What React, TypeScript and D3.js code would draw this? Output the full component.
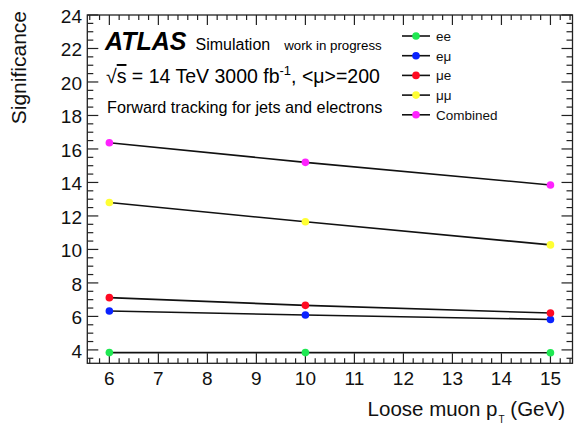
import React, { useEffect, useRef } from 'react';
import * as d3 from 'd3';

// loose muon pT cut (GeV)
const ptCuts = [6, 10, 15];

// significance per channel
const sigEE = [3.84, 3.84, 3.83];
const sigEMu = [6.32, 6.08, 5.82];
const sigMuE = [7.12, 6.66, 6.2];
const sigMuMu = [12.8, 11.65, 10.27];
const sigCombined = [16.37, 15.2, 13.85];

const channelNames = ['ee', 'eμ', 'μe', 'μμ', 'Combined'];
const channelColors = ['#1fe852', '#0a22ff', '#ff0a22', '#ffff33', '#ff22ff'];

const xDomain = [5.55, 15.45];
const yDomain = [3.2, 24];

const FONT = "'Liberation Sans', Arial, Helvetica, sans-serif";

const App = () => {
  const svgRef = useRef(null);

  useEffect(() => {
    const width = 574;
    const height = 424;
    const frame = { left: 87.3, right: 572.5, top: 15, bottom: 363.3 };

    const svg = d3.select(svgRef.current);
    svg.selectAll('*').remove();
    svg.attr('width', width).attr('height', height);

    svg.append('rect').attr('width', width).attr('height', height).attr('fill', '#fff');

    const x = d3.scaleLinear().domain(xDomain).range([frame.left, frame.right]);
    const y = d3.scaleLinear().domain(yDomain).range([frame.bottom, frame.top]);

    const series = [sigEE, sigEMu, sigMuE, sigMuMu, sigCombined];

    // ticks (ROOT style, pointing inwards, on all four sides)
    const ticks = svg.append('g').attr('stroke', '#222').attr('stroke-width', 1.2);
    const xMajor = d3.range(6, 15.01, 1);
    const xMinor = d3.range(5.6, 15.45, 0.2).filter(v => Math.abs(v - Math.round(v)) > 0.01);
    const yMajor = y.ticks(10);
    const yMinor = d3.range(3.5, 24.01, 0.5).filter(v => Math.abs(v / 2 - Math.round(v / 2)) > 0.01);

    xMajor.forEach(v => {
      ticks.append('line').attr('x1', x(v)).attr('x2', x(v)).attr('y1', frame.bottom).attr('y2', frame.bottom - 10);
      ticks.append('line').attr('x1', x(v)).attr('x2', x(v)).attr('y1', frame.top).attr('y2', frame.top + 10);
    });
    xMinor.forEach(v => {
      ticks.append('line').attr('x1', x(v)).attr('x2', x(v)).attr('y1', frame.bottom).attr('y2', frame.bottom - 5);
      ticks.append('line').attr('x1', x(v)).attr('x2', x(v)).attr('y1', frame.top).attr('y2', frame.top + 5);
    });
    yMajor.forEach(v => {
      ticks.append('line').attr('x1', frame.left).attr('x2', frame.left + 11).attr('y1', y(v)).attr('y2', y(v));
      ticks.append('line').attr('x1', frame.right).attr('x2', frame.right - 11).attr('y1', y(v)).attr('y2', y(v));
    });
    yMinor.forEach(v => {
      ticks.append('line').attr('x1', frame.left).attr('x2', frame.left + 6).attr('y1', y(v)).attr('y2', y(v));
      ticks.append('line').attr('x1', frame.right).attr('x2', frame.right - 6).attr('y1', y(v)).attr('y2', y(v));
    });

    svg.append('rect')
      .attr('x', frame.left).attr('y', frame.top)
      .attr('width', frame.right - frame.left).attr('height', frame.bottom - frame.top)
      .attr('fill', 'none').attr('stroke', '#222').attr('stroke-width', 1.3);

    // tick labels
    svg.append('g').selectAll('text').data(xMajor).enter().append('text')
      .attr('x', d => x(d)).attr('y', 385)
      .attr('text-anchor', 'middle')
      .attr('font-family', FONT).attr('font-size', 19).attr('fill', '#111')
      .text(d => d);

    svg.append('g').selectAll('text').data(yMajor).enter().append('text')
      .attr('x', 82).attr('y', d => y(d) + 8)
      .attr('text-anchor', 'end')
      .attr('font-family', FONT).attr('font-size', 19).attr('fill', '#111')
      .text(d => d);

    // axis titles
    const xTitle = svg.append('text')
      .attr('x', 565).attr('y', 416)
      .attr('text-anchor', 'end')
      .attr('font-family', FONT).attr('font-size', 20.5).attr('fill', '#111');
    xTitle.append('tspan').text('Loose muon p');
    xTitle.append('tspan').attr('font-size', 10).attr('dx', 1).attr('dy', 7).text('T');
    xTitle.append('tspan').attr('dy', -7).text(' (GeV)');

    svg.append('text')
      .attr('transform', 'translate(26,11) rotate(-90)')
      .attr('text-anchor', 'end')
      .attr('font-family', FONT).attr('font-size', 21).attr('fill', '#111')
      .text('Significance');

    // lines + markers
    const line = d3.line().x((d, i) => x(ptCuts[i])).y(d => y(d));
    series.forEach((vals, k) => {
      svg.append('path')
        .attr('d', line(vals))
        .attr('fill', 'none').attr('stroke', '#111').attr('stroke-width', 1.6);
      svg.append('g').selectAll('circle').data(vals).enter().append('circle')
        .attr('cx', (d, i) => x(ptCuts[i])).attr('cy', d => y(d))
        .attr('r', 3.8).attr('fill', channelColors[k]);
    });

    // ATLAS label
    const atlas = svg.append('text').attr('x', 105).attr('y', 50).attr('font-family', FONT).attr('fill', '#000');
    atlas.append('tspan').attr('font-weight', 'bold').attr('font-style', 'italic').attr('font-size', 25).text('ATLAS');
    atlas.append('tspan').attr('font-size', 16).attr('dx', 9).text('Simulation');
    atlas.append('tspan').attr('font-size', 13.3).attr('dx', 14).text('work in progress');

    const energy = svg.append('text').attr('x', 106).attr('y', 83).attr('font-family', FONT).attr('font-size', 19.5).attr('fill', '#000');
    energy.append('tspan').text('√');
    energy.append('tspan').style('text-decoration', 'overline').text('s');
    energy.append('tspan').text(' = 14 TeV 3000 fb');
    energy.append('tspan').attr('font-size', 13).attr('dy', -8).text('-1');
    energy.append('tspan').attr('dy', 8).text(', <μ>=200');

    svg.append('text').attr('x', 107).attr('y', 113)
      .attr('font-family', FONT).attr('font-size', 16.2).attr('fill', '#000')
      .text('Forward tracking for jets and electrons');

    // legend
    const legend = svg.append('g');
    channelNames.forEach((name, k) => {
      const ly = 36 + k * 19.7;
      legend.append('line').attr('x1', 402).attr('x2', 430).attr('y1', ly).attr('y2', ly)
        .attr('stroke', '#111').attr('stroke-width', 1.6);
      legend.append('circle').attr('cx', 416).attr('cy', ly).attr('r', 3.8).attr('fill', channelColors[k]);
      legend.append('text').attr('x', 436).attr('y', ly + 5)
        .attr('font-family', FONT).attr('font-size', 13.5).attr('fill', '#111')
        .text(name);
    });
  }, []);

  return <svg ref={svgRef} style={{ position: 'absolute', left: 0, top: 0 }}></svg>;
};

export default App;
